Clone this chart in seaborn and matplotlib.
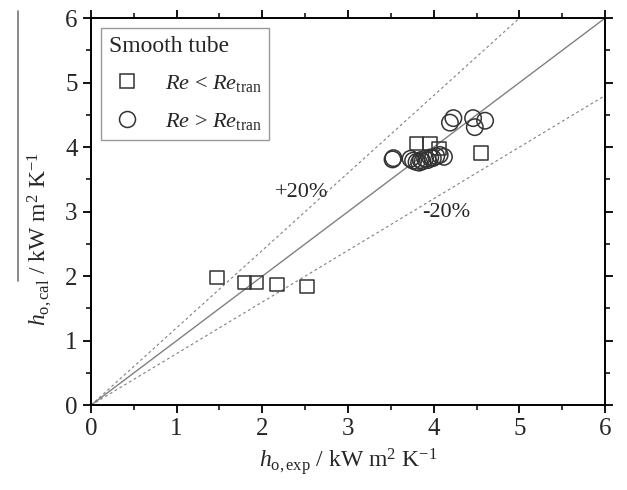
import numpy as np
import pandas as pd
import matplotlib
matplotlib.use('Agg')
import matplotlib.pyplot as plt
from matplotlib.lines import Line2D
from matplotlib.ticker import MultipleLocator
import seaborn as sns

# dados
sq_x = [1.47, 1.79, 1.93, 2.17, 2.52, 3.80, 3.96, 4.06, 4.55]
sq_y = [1.98, 1.90, 1.90, 1.87, 1.84, 4.06, 4.06, 3.98, 3.91]

circ_x = [3.52, 3.53, 3.73, 3.76, 3.80, 3.83, 3.85, 3.87, 3.90, 3.93,
          3.96, 3.99, 4.03, 4.07, 4.12, 4.19, 4.23, 4.46, 4.48, 4.60]
circ_y = [3.81, 3.83, 3.82, 3.79, 3.77, 3.76, 3.80, 3.78, 3.82, 3.80,
          3.84, 3.83, 3.86, 3.88, 3.85, 4.38, 4.45, 4.45, 4.31, 4.41]

ref_x = [0, 6]
ticks = [0, 1, 2, 3, 4, 5, 6]

sns.set_style('ticks')
plt.rcParams['font.family'] = ['Liberation Serif', 'DejaVu Serif']
plt.rcParams['mathtext.fontset'] = 'custom'
plt.rcParams['mathtext.rm'] = 'Liberation Serif'
plt.rcParams['mathtext.it'] = 'Liberation Serif:italic'
plt.rcParams['mathtext.bf'] = 'Liberation Serif:bold'

df_lo = pd.DataFrame({'exp': sq_x, 'cal': sq_y})
df_hi = pd.DataFrame({'exp': circ_x, 'cal': circ_y})

fig = plt.figure(figsize=(6.27, 4.90), dpi=100)
ax = fig.add_axes([0.145, 0.173, 0.82, 0.79])

# linhas de referencia
x = np.array(ref_x, dtype=float)
ax.plot(x, x, color='#808080', lw=1.0, zorder=1)
ax.plot(x, 1.2 * x, color='#808080', lw=0.8, ls=(0, (2.5, 2.5)), zorder=1)
ax.plot(x, 0.8 * x, color='#808080', lw=0.8, ls=(0, (2.5, 2.5)), zorder=1)

sns.scatterplot(data=df_lo, x='exp', y='cal', marker='s', s=95,
                facecolor='none', edgecolor='#333333', linewidth=1.1, ax=ax, zorder=3)
sns.scatterplot(data=df_hi, x='exp', y='cal', marker='o', s=140,
                facecolor='none', edgecolor='#333333', linewidth=1.1, ax=ax, zorder=3)

ax.text(2.15, 3.30, '+20%', fontsize=16, va='center', ha='left')
ax.text(3.87, 2.98, '-20%', fontsize=16, va='center', ha='left')

ax.set_xlim(0, 6)
ax.set_ylim(0, 6)
ax.set_xticks(ticks)
ax.set_yticks(ticks)
ax.xaxis.set_minor_locator(MultipleLocator(0.5))
ax.yaxis.set_minor_locator(MultipleLocator(0.5))
ax.tick_params(which='both', direction='out', top=True, right=True,
               labeltop=False, labelright=False, color='black')
ax.tick_params(which='major', length=6, width=1.3, labelsize=18)
ax.tick_params(which='minor', length=3.5, width=1.1)
for sp in ax.spines.values():
    sp.set_linewidth(1.4)
    sp.set_color('black')

ax.set_xlabel(r'$h_{\rm o,exp}$ / kW m$^{2}$ K$^{{-}1}$', fontsize=17)
ax.set_ylabel(r'$h_{\rm o,cal}$ / kW m$^{2}$ K$^{{-}1}$', fontsize=17)
ax.yaxis.set_label_coords(-0.072, 0.43)

# legenda
handles = [
    Line2D([], [], marker='s', ls='none', markersize=9.5, markerfacecolor='none',
           markeredgecolor='#333333', markeredgewidth=1.1),
    Line2D([], [], marker='o', ls='none', markersize=11.5, markerfacecolor='none',
           markeredgecolor='#333333', markeredgewidth=1.1),
]
labels = [r'$Re$ < $Re_{\rm tran}$', r'$Re$ > $Re_{\rm tran}$']
leg = ax.legend(handles, labels, title='Smooth tube', loc='upper left',
                bbox_to_anchor=(0.02, 0.975), borderaxespad=0, fontsize=16,
                title_fontsize=17, fancybox=False, framealpha=1,
                edgecolor='#999999', handletextpad=0.9, borderpad=0.35,
                labelspacing=0.75, handlelength=1.6)
leg._legend_box.align = 'left'
leg.get_frame().set_linewidth(1.0)

# barra sobre o rotulo do eixo y
fig.add_artist(Line2D([0.0287, 0.0287], [0.978, 0.427], transform=fig.transFigure,
                      color='#777777', lw=1.2))

fig.savefig('out.png', dpi=100)
